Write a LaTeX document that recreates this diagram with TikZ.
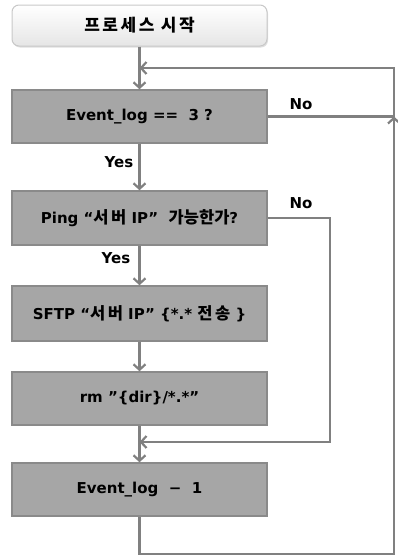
\documentclass[tikz,border=0pt]{standalone}
\usepackage{fontspec}
\setmainfont{DejaVu Sans}
\newfontfamily\kr{Noto Sans CJK KR}
\newfontfamily\krwide{Noto Sans CJK KR}[LetterSpace=15]
\newcommand\hgl[1]{{\kr\fontsize{16.5}{18}\selectfont #1}}
\newcommand\hgw[1]{{\krwide\fontsize{16.5}{18}\selectfont #1}}
\usetikzlibrary{arrows.meta,shadows}
\definecolor{boxfill}{HTML}{A6A6A6}
\definecolor{boxline}{HTML}{8A8A8A}
\definecolor{conncol}{HTML}{808080}
\definecolor{startline}{HTML}{C8C8C8}
\begin{document}
\begin{tikzpicture}[x=1pt,y=-1pt,
  box/.style={draw=boxline, fill=boxfill, line width=1.5pt, minimum width=255pt, inner sep=0pt, font=\bfseries\fontsize{15}{17}\selectfont},
  startbox/.style={draw=startline, line width=1pt, rounded corners=7pt, top color=white, bottom color=black!10, minimum width=255pt, minimum height=41pt, inner sep=0pt, font=\krwide\bfseries\fontsize{17}{19}\selectfont, drop shadow={shadow xshift=1pt, shadow yshift=-1.5pt, opacity=0.25}},
  conn/.style={draw=conncol, line width=2.2pt},
  arr/.style={conn, -{Straight Barb[length=5.5pt,width=12pt]}},
  lbl/.style={font=\bfseries\fontsize{15}{17}\selectfont, inner sep=0pt}
]
\useasboundingbox (0,0) rectangle (398,555);
\node[startbox] (start) at (139.5,25.5) {프로세스 시작};
\node[box, minimum height=53pt] (ev) at (139.5,116.5) {Event\_log == \ 3 ?};
\node[box, minimum height=54pt] (ping) at (139.5,218) {Ping “\hgw{서버} IP” \ \hgl{가능한가}?};
\node[box, minimum height=55pt] (sftp) at (139.5,313.5) {SFTP “\hgw{서버} IP” \{*.* \hgw{전송} \}};
\node[box, minimum height=53pt] (rm) at (139.5,398.5) {rm "\{dir\}/*.*"};
\node[box, minimum height=53pt] (em1) at (139.5,489.5) {Event\_log \ − \ 1};

\coordinate (j1) at (139.5,68);
\coordinate (tr) at (394,68);
\coordinate (jr) at (394,116.5);
\coordinate (br) at (394,554);
\coordinate (bl) at (139.5,554);
\coordinate (pr) at (330,218);
\coordinate (pb) at (330,442);
\coordinate (j2) at (139.5,442);

\draw[arr] (start.south) -- (ev.north);
\draw[arr] (ev.south) -- (ping.north);
\draw[arr] (ping.south) -- (sftp.north);
\draw[arr] (sftp.south) -- (rm.north);
\draw[arr] (rm.south) -- (em1.north);
\draw[conn] (ev.east) -- (jr);
\draw[arr] (em1.south) -- (bl) -- (br) -- (jr);
\draw[arr] (jr) -- (tr) -- (j1);
\draw[arr] (ping.east) -- (pr) -- (pb) -- (j2);

\node[lbl] (no1) at (301,104) {No};
\node[lbl] (no2) at (301,203) {No};
\node[lbl] (yes1) at (119,162) {Yes};
\node[lbl] (yes2) at (116,258) {Yes};
\end{tikzpicture}
\end{document}
